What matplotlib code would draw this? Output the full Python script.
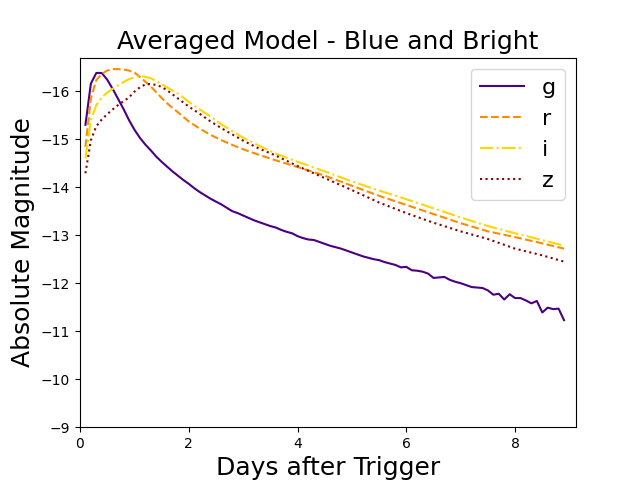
import numpy as np
import matplotlib.pyplot as plt

# time grid for g band (days after trigger)
t_g = np.round(np.arange(1, 90) * 0.1, 1)
g_mag = [-15.30, -16.16, -16.38, -16.38, -16.24, -16.05, -15.84, -15.63, -15.40, -15.20,
         -15.03, -14.89, -14.77, -14.64, -14.53, -14.43, -14.33, -14.24, -14.15, -14.07,
         -13.98, -13.90, -13.83, -13.76, -13.70, -13.64, -13.57, -13.50, -13.46, -13.41,
         -13.36, -13.31, -13.27, -13.23, -13.19, -13.16, -13.11, -13.07, -13.04, -12.98,
         -12.94, -12.91, -12.90, -12.86, -12.82, -12.78, -12.75, -12.72, -12.68, -12.64,
         -12.60, -12.56, -12.53, -12.50, -12.48, -12.44, -12.41, -12.38, -12.33, -12.34,
         -12.27, -12.26, -12.24, -12.20, -12.11, -12.12, -12.13, -12.07, -12.03, -12.00,
         -11.96, -11.92, -11.91, -11.90, -11.85, -11.76, -11.78, -11.66, -11.77, -11.69,
         -11.69, -11.64, -11.58, -11.63, -11.39, -11.49, -11.46, -11.47, -11.23]

# time grid for the smoother r, i, z bands
t_riz = [0.1, 0.2, 0.3, 0.4, 0.5, 0.6, 0.7, 0.8, 0.9, 1.0, 1.1, 1.2, 1.3, 1.4, 1.5,
         1.6, 1.8, 2.0, 2.2, 2.4, 2.6, 2.8, 3.0, 3.3, 3.6, 4.0, 4.5, 5.0, 5.5, 6.0,
         6.5, 7.0, 7.5, 8.0, 8.5, 8.9]
r_mag = [-14.84, -15.85, -16.23, -16.36, -16.43, -16.46, -16.46, -16.45, -16.43, -16.39,
         -16.30, -16.20, -16.10, -15.98, -15.86, -15.75, -15.56, -15.37, -15.22, -15.09,
         -14.98, -14.88, -14.79, -14.67, -14.56, -14.42, -14.24, -14.03, -13.82, -13.63,
         -13.44, -13.25, -13.08, -12.96, -12.83, -12.72]
i_mag = [-14.60, -15.40, -15.71, -15.87, -15.97, -16.05, -16.12, -16.19, -16.25, -16.29,
         -16.31, -16.30, -16.27, -16.21, -16.15, -16.08, -15.95, -15.78, -15.62, -15.47,
         -15.31, -15.17, -15.03, -14.86, -14.70, -14.53, -14.33, -14.12, -13.93, -13.75,
         -13.56, -13.37, -13.19, -13.04, -12.90, -12.78]
z_mag = [-14.29, -14.98, -15.27, -15.41, -15.52, -15.62, -15.71, -15.79, -15.87, -15.99,
         -16.08, -16.14, -16.15, -16.13, -16.09, -16.02, -15.85, -15.68, -15.53, -15.37,
         -15.23, -15.10, -14.97, -14.80, -14.66, -14.44, -14.19, -13.94, -13.68, -13.46,
         -13.26, -13.08, -12.92, -12.72, -12.58, -12.45]

fig = plt.figure(figsize=(6.4, 4.8), dpi=100)
plt.plot(t_g, g_mag, color="indigo", linestyle="-", label="g")
plt.plot(t_riz, r_mag, color="darkorange", linestyle="--", label="r")
plt.plot(t_riz, i_mag, color="gold", linestyle="-.", label="i")
plt.plot(t_riz, z_mag, color="darkred", linestyle=":", label="z")
plt.xlim(0, 9.12)
plt.ylim(-9, -16.7)
plt.title("Averaged Model - Blue and Bright", fontsize=18)
plt.xlabel("Days after Trigger", fontsize=18)
plt.ylabel("Absolute Magnitude", fontsize=18)
plt.legend(loc="upper right", prop={'size': 16})
plt.savefig("out.png")
